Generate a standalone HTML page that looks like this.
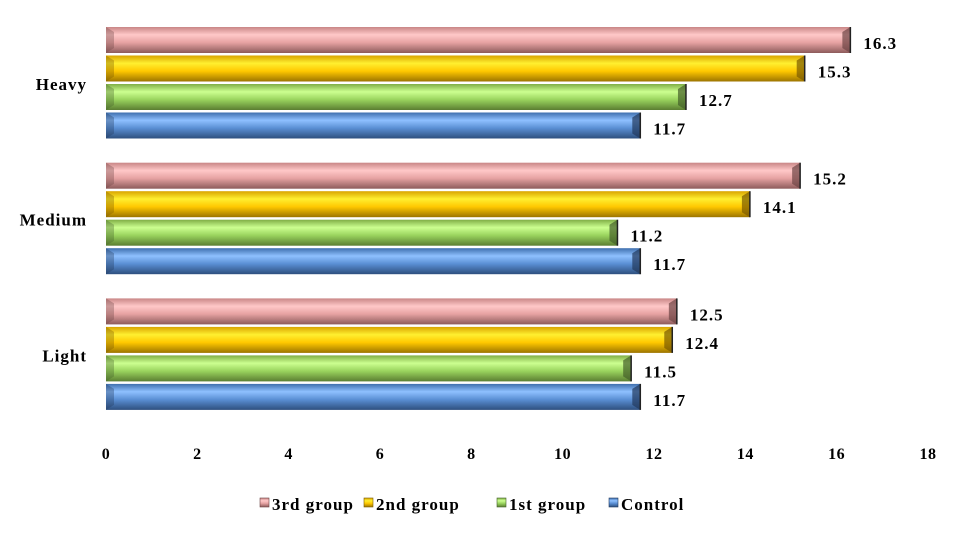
<!DOCTYPE html>
<html><head><meta charset="utf-8"><style>
body{margin:0;background:#fff}
svg{display:block;font-family:"Liberation Serif",serif;font-weight:bold}
</style></head><body>
<svg id="c" width="961" height="549">
<defs>
<linearGradient id="g0" x1="0" y1="0" x2="0" y2="1"><stop offset="0" stop-color="#c98686"/><stop offset="0.3" stop-color="#ffc8c8"/><stop offset="0.6" stop-color="#e6a2a2"/><stop offset="1" stop-color="#8d5b5b"/></linearGradient>
<linearGradient id="g1" x1="0" y1="0" x2="0" y2="1"><stop offset="0" stop-color="#d9a400"/><stop offset="0.3" stop-color="#ffef30"/><stop offset="0.6" stop-color="#ffc800"/><stop offset="1" stop-color="#9c7400"/></linearGradient>
<linearGradient id="g2" x1="0" y1="0" x2="0" y2="1"><stop offset="0" stop-color="#7fae45"/><stop offset="0.3" stop-color="#ccff90"/><stop offset="0.6" stop-color="#9ad45e"/><stop offset="1" stop-color="#5b7e32"/></linearGradient>
<linearGradient id="g3" x1="0" y1="0" x2="0" y2="1"><stop offset="0" stop-color="#3f6fae"/><stop offset="0.3" stop-color="#8ec0ff"/><stop offset="0.6" stop-color="#5a8fd4"/><stop offset="1" stop-color="#2e4f7e"/></linearGradient>
</defs>
</svg>
<script>
const categories=["Heavy","Medium","Light"];
const seriesNames=["3rd group","2nd group","1st group","Control"];
const s3=[16.3,15.2,12.5];
const s2=[15.3,14.1,12.4];
const s1=[12.7,11.2,11.5];
const s0=[11.7,11.7,11.7];
const ticks=[0,2,4,6,8,10,12,14,16,18];
const series=[s3,s2,s1,s0];
const dark=["#6d4444","#7a5a00","#44602a","#22395c"];
const svg=document.getElementById('c');
const NS="http://www.w3.org/2000/svg";
const x=v=>106+v*(928-106)/18;
function mk(t,a,txt){const e=document.createElementNS(NS,t);for(const k in a)e.setAttribute(k,a[k]);if(txt!==undefined)e.textContent=txt;svg.appendChild(e);return e;}
ticks.forEach(t=>{
 const e=mk('text',{x:x(t),y:459,'text-anchor':'middle','font-size':16,'letter-spacing':0.5},t);
 
 
});
categories.forEach((c,ci)=>{
 const gy=27+ci*135.7;
 const e=mk('text',{x:87,y:gy+63,'text-anchor':'end','font-size':17,'letter-spacing':1},c);
 
 
 series.forEach((s,si)=>{
  const y=gy+si*28.5,h=26,x0=x(0),x1=x(s[ci]);
  const r=mk('rect',{x:x0,y:y,width:x1-x0,height:h,fill:'url(#g'+si+')'});
  
  
  const lc=mk('polygon',{points:`${x0},${y} ${x0+8},${y+5} ${x0+8},${y+h-5} ${x0},${y+h}`,fill:dark[si],opacity:0.35});
  
  
  const p=mk('polygon',{points:`${x1-8},${y+5} ${x1},${y} ${x1},${y+h} ${x1-8},${y+h-5}`,fill:dark[si],opacity:0.7});
  
  
  mk('line',{x1:x1,y1:y,x2:x1,y2:y+h,stroke:'#222','stroke-width':1.5});
  const l=mk('text',{x:x1+13,y:y+h/2+9,'font-size':17,'letter-spacing':1},s[ci].toFixed(1));
  
  
 });
});
const lx=[260,364,497,609];
seriesNames.forEach((n,i)=>{
 const r=mk('rect',{x:lx[i],y:498,width:9,height:9,fill:'url(#g'+i+')',stroke:dark[i],'stroke-width':0.6});
 
 
 const t=mk('text',{x:lx[i]+12,y:510,'font-size':17,'letter-spacing':1},n);
 
 
});
</script>
</body></html>
